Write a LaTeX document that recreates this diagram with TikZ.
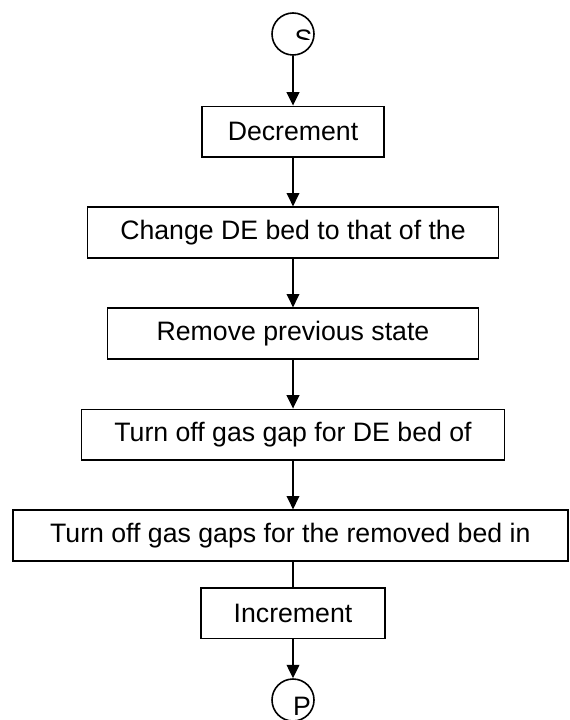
\documentclass[tikz,border=0pt]{standalone}
\usepackage{fontspec}
\setmainfont{Liberation Sans}
\usetikzlibrary{arrows.meta}

\begin{document}
\begin{tikzpicture}[
    x=0.75pt,
    y=-0.75pt,
    >={Triangle[length=10pt,width=9.5pt]},
    boite/.style={
        draw,
        line width=1.2pt,
        minimum height=38pt,
        inner sep=0pt,
        font=\fontsize{20}{24}\selectfont
    },
    borne/.style={
        circle,
        draw,
        line width=1.2pt,
        minimum size=31.5pt,
        inner sep=0pt
    },
    lettre/.style={
        anchor=north,
        inner sep=0pt,
        font=\fontsize{20}{24}\selectfont
    },
    fleche/.style={
        ->,
        line width=1.2pt
    },
    trait/.style={
        line width=1.2pt
    }
]

\useasboundingbox (0,0) rectangle (569,720);

% Start and end points
\node[borne] (debut) at (293,34) {};
\node[borne] (fin) at (293,700) {};

% Letters in the circles
\begin{scope}
\clip (273,13) rectangle (315,40);
\node[lettre] (s) at (303.5,30) {S};
\end{scope}
\node[lettre] (p) at (302,697) {P};

% Steps
\node[boite, minimum width=136.5pt] (decr) at (293,131.7) {Decrement};
\node[boite, minimum width=308.25pt] (chg) at (293,232.5) {Change DE bed to that of the};
\node[boite, minimum width=278.25pt] (prev) at (293,333.5) {Remove previous state};
\node[boite, minimum width=317.25pt] (sup) at (293,434.7) {Turn off gas gap for DE bed of};
\node[boite, minimum width=416.25pt] (gaps) at (290.3,535.5) {Turn off gas gaps for the removed bed in};
\node[boite, minimum width=138pt] (incr) at (293,613.3) {Increment};

% Connectors
\draw[fleche] (debut) -- (decr);
\draw[fleche] (decr) -- (chg);
\draw[fleche] (chg) -- (prev);
\draw[fleche] (prev) -- (sup);
\draw[fleche] (sup) -- (sup.south |- gaps.north);
\draw[trait] (gaps.south -| incr) -- (incr);
\draw[fleche] (incr) -- (fin);

\end{tikzpicture}
\end{document}
